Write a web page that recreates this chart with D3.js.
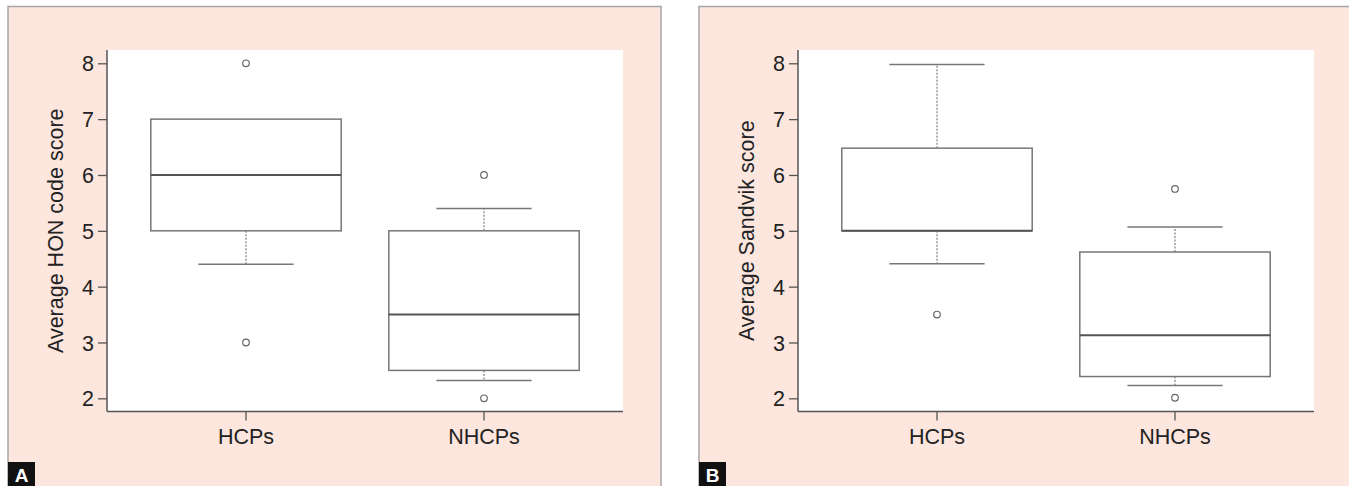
<!DOCTYPE html>
<html>
<head>
<meta charset="utf-8">
<script src="https://cdn.jsdelivr.net/npm/d3@7"></script>
<style>
  html, body { margin: 0; padding: 0; background: #ffffff; }
  svg { display: block; font-family: "Liberation Sans", Arial, sans-serif; }
</style>
</head>
<body>
<svg id="chart" width="1349" height="486"></svg>
<script>
// ---- data ----
const categories = ["HCPs", "NHCPs"];
const yTicks = [2, 3, 4, 5, 6, 7, 8];
const panelLabels = ["A", "B"];
const yTitles = ["Average HON code score", "Average Sandvik score"];

// Panel A: HON code score  [lowerWhisker, Q1, median, Q3, upperWhisker]
const honStats = [
  [4.4, 5, 6, 7, 7],
  [2.32, 2.5, 3.5, 5, 5.4]
];
const honOutliers = [[8, 3], [6, 2]];

// Panel B: Sandvik score
const sandvikStats = [
  [4.41, 5, 5, 6.48, 7.98],
  [2.23, 2.39, 3.13, 4.62, 5.07]
];
const sandvikOutliers = [[3.5], [5.75, 2.01]];

const panels = [
  { stats: honStats, outliers: honOutliers },
  { stats: sandvikStats, outliers: sandvikOutliers }
];

// ---- layout ----
const svg = d3.select("#chart");
const panelX = [8, 699];
const panelW = 653;
const plotL = 99, plotW = 516, plotT = 50, plotB = 411.5;

const pink = "#fce6dd";

panels.forEach((p, i) => {
  const g = svg.append("g").attr("transform", `translate(${panelX[i]},0)`);
  // panel background and border
  g.append("rect").attr("x", 0).attr("y", 6.5).attr("width", panelW).attr("height", 490)
    .attr("fill", pink).attr("stroke", "#a6a6a6").attr("stroke-width", 1.5);
  // plot area
  g.append("rect").attr("x", plotL).attr("y", plotT).attr("width", plotW).attr("height", plotB - plotT)
    .attr("fill", "#ffffff");

  const y = d3.scaleLinear().domain([1.764, 8.238]).range([plotB, plotT]);
  const x = d3.scaleBand().domain(categories).range([plotL, plotL + plotW])
    .paddingInner(0.2).paddingOuter(0.184);

  // axes
  const yAxis = g.append("g").attr("transform", `translate(${plotL},0)`)
    .call(d3.axisLeft(y).tickValues(yTicks).tickSize(9).tickPadding(4).tickFormat(d3.format("d")));
  const xAxis = g.append("g").attr("transform", `translate(0,${plotB})`)
    .call(d3.axisBottom(x).tickSize(9).tickPadding(8));
  [yAxis, xAxis].forEach(a => {
    a.select(".domain").attr("stroke", "#555").attr("stroke-width", 1.5);
    a.selectAll(".tick line").attr("stroke", "#555").attr("stroke-width", 1.3);
    a.selectAll(".tick text").attr("fill", "#222").style("font-size", "21.5px")
      .style("font-family", "'Liberation Sans', Arial, sans-serif");
  });
  yAxis.select(".domain").attr("d", `M0,${plotB}V${plotT}`);
  xAxis.select(".domain").attr("d", `M${plotL},0H${plotL + plotW}`);
  yAxis.selectAll(".tick text").attr("dy", "0.35em");

  // y title
  g.append("text")
    .attr("transform", `translate(47,${(plotT + plotB) / 2}) rotate(-90)`)
    .attr("text-anchor", "middle").attr("dy", "0.35em")
    .attr("fill", "#222").style("font-size", "21.5px")
    .text(yTitles[i]);

  // boxes
  const bw = x.bandwidth();
  categories.forEach((c, k) => {
    const [lo, q1, med, q3, hi] = p.stats[k];
    const cx = x(c) + bw / 2;
    const capHalf = bw / 4;
    const bg = g.append("g");
    // whiskers (dotted)
    if (hi > q3) {
      bg.append("line").attr("x1", cx).attr("x2", cx).attr("y1", y(q3)).attr("y2", y(hi))
        .attr("stroke", "#888").attr("stroke-width", 1.3).attr("stroke-dasharray", "2,1.5");
      bg.append("line").attr("x1", cx - capHalf).attr("x2", cx + capHalf).attr("y1", y(hi)).attr("y2", y(hi))
        .attr("stroke", "#777").attr("stroke-width", 1.5);
    }
    if (lo < q1) {
      bg.append("line").attr("x1", cx).attr("x2", cx).attr("y1", y(q1)).attr("y2", y(lo))
        .attr("stroke", "#888").attr("stroke-width", 1.3).attr("stroke-dasharray", "2,1.5");
      bg.append("line").attr("x1", cx - capHalf).attr("x2", cx + capHalf).attr("y1", y(lo)).attr("y2", y(lo))
        .attr("stroke", "#777").attr("stroke-width", 1.5);
    }
    // box
    bg.append("rect").attr("x", x(c)).attr("y", y(q3)).attr("width", bw).attr("height", y(q1) - y(q3))
      .attr("fill", "#ffffff").attr("stroke", "#777").attr("stroke-width", 1.5);
    // median
    bg.append("line").attr("x1", x(c)).attr("x2", x(c) + bw).attr("y1", y(med)).attr("y2", y(med))
      .attr("stroke", "#555").attr("stroke-width", 2);
    // outliers
    bg.selectAll("circle.out").data(p.outliers[k]).enter().append("circle")
      .attr("class", "out").attr("cx", cx).attr("cy", d => y(d)).attr("r", 3.3)
      .attr("fill", "#ffffff").attr("stroke", "#666").attr("stroke-width", 1.2);
  });

  // panel label
  g.append("rect").attr("x", 0).attr("y", 462).attr("width", 27).attr("height", 30).attr("fill", "#111");
  g.append("text").attr("x", 13.5).attr("y", 481.5).attr("text-anchor", "middle")
    .attr("fill", "#ffffff").style("font-size", "19px").style("font-weight", "bold")
    .text(panelLabels[i]);
});
</script>
</body>
</html>
